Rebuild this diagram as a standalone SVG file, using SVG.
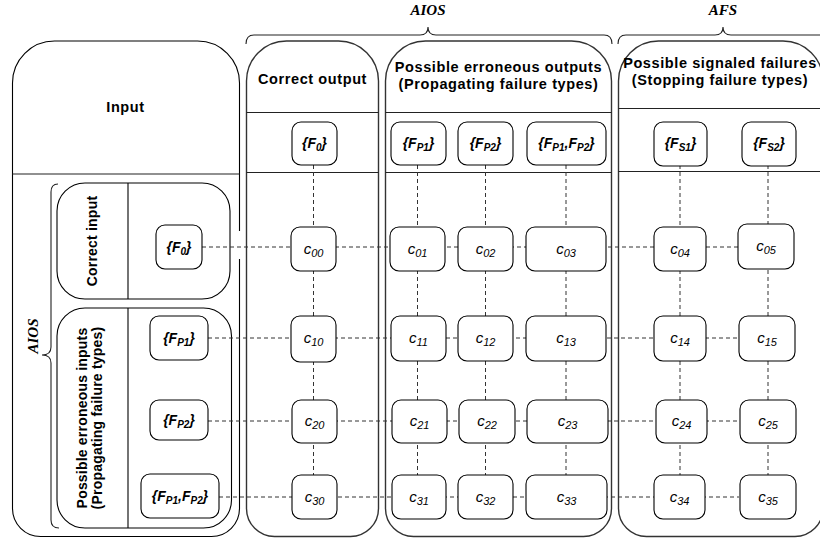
<svg xmlns="http://www.w3.org/2000/svg" width="820" height="542" viewBox="0 0 820 542">
<style>
.bx{fill:none;stroke:#000;stroke-width:1.1}
.col{fill:none;stroke:#333;stroke-width:1.4}
.dv{stroke:#222;stroke-width:1.2}
.br{fill:none;stroke:#222;stroke-width:1.1}
.dash{fill:none;stroke:#333;stroke-width:1;stroke-dasharray:4,3}
.nd{fill:#fff;stroke:#000;stroke-width:1.1}
.hd{font-family:"Liberation Sans",Arial,sans-serif;font-weight:bold;font-size:14.5px;letter-spacing:0.6px;fill:#000;text-anchor:middle}
.vt{font-family:"Liberation Sans",Arial,sans-serif;font-weight:bold;font-size:14px;letter-spacing:0.2px;fill:#000;text-anchor:middle}
.lab{font-family:"Liberation Sans",Arial,sans-serif;font-weight:bold;font-style:italic;font-size:14px;fill:#000;text-anchor:middle}
.cl{font-family:"Liberation Sans",Arial,sans-serif;font-style:italic;font-size:15px;fill:#000;text-anchor:middle}
.sub{font-size:10px}
.csub{font-size:11px}
.scr{font-family:"Liberation Serif","DejaVu Serif",serif;font-style:italic;font-weight:bold;font-size:15px;fill:#000;text-anchor:middle}
</style>

<!-- braces and set labels -->
<g id="braces">
<path class="br" d="M246,44 Q246,35 254,35 H420 Q428,35 428,27 Q428,35 436,35 H604 Q612,35 612,44"/>
<path class="br" d="M618,44 Q618,35 626,35 H715 Q723,35 723,27 Q723,35 731,35 H830"/>
<path class="br" d="M58,184 Q51,184 51,192 V347 Q51,355 42,355 Q51,355 51,363 V520 Q51,528 59,528"/>
<text class="scr" x="428" y="15">AIOS</text>
<text class="scr" x="723" y="15">AFS</text>
<text class="scr" x="38" y="336" transform="rotate(-90 38 336)">AIOS</text>
</g>

<!-- Input box -->
<g id="input">
<path class="bx" d="M12.5,83 A42,42 0 0 1 54.5,41 H197.5 A42,42 0 0 1 239.5,83 V508.5 A28,28 0 0 1 211.5,536.5 H40.5 A28,28 0 0 1 12.5,508.5 Z"/>
<line class="dv" x1="12.5" y1="174" x2="239.5" y2="174"/>
<rect x="237" y="231" width="5" height="28" fill="#fff"/>
<text class="hd" x="125.5" y="112">Input</text>
</g>

<g id="correct-input">
<rect class="bx" x="57" y="183" width="173" height="116" rx="28" ry="28"/>
<line class="bx" x1="128" y1="183" x2="128" y2="299"/>
<text class="vt" x="97" y="241" transform="rotate(-90 97 241)">Correct input</text>
</g>

<g id="erroneous-inputs">
<rect class="bx" x="57" y="308" width="174.5" height="220" rx="28" ry="28"/>
<line class="bx" x1="128" y1="308" x2="128" y2="528"/>
<text class="vt" x="87" y="418" transform="rotate(-90 87 418)">Possible erroneous inputs</text>
<text class="vt" x="102" y="418" transform="rotate(-90 102 418)">(Propagating failure types)</text>
</g>

<!-- Output columns -->
<g id="correct-output">
<path class="col" d="M246.5,81 A40,40 0 0 1 286.5,41 H338.5 A40,40 0 0 1 378.5,81 V508.5 A28,28 0 0 1 350.5,536.5 H274.5 A28,28 0 0 1 246.5,508.5 Z"/>
<line class="dv" x1="246.5" y1="112.5" x2="378.5" y2="112.5"/>
<line class="dv" x1="246.5" y1="172.5" x2="378.5" y2="172.5"/>
<text class="hd" x="312.5" y="84">Correct output</text>
</g>

<g id="erroneous-outputs">
<path class="col" d="M385.5,81 A40,40 0 0 1 425.5,41 H571.5 A40,40 0 0 1 611.5,81 V508.5 A28,28 0 0 1 583.5,536.5 H413.5 A28,28 0 0 1 385.5,508.5 Z"/>
<line class="dv" x1="385.5" y1="112.5" x2="611.5" y2="112.5"/>
<line class="dv" x1="385.5" y1="172.5" x2="611.5" y2="172.5"/>
<text class="hd" x="498.5" y="72">Possible erroneous outputs</text>
<text class="hd" x="498.5" y="89">(Propagating failure types)</text>
</g>

<g id="signaled-failures">
<path class="col" d="M618.5,81 A40,40 0 0 1 658.5,41 H783 A40,40 0 0 1 823,81 V508.5 A28,28 0 0 1 795,536.5 H646.5 A28,28 0 0 1 618.5,508.5 Z"/>
<line class="dv" x1="618.5" y1="108.5" x2="823" y2="108.5"/>
<line class="dv" x1="618.5" y1="171.5" x2="823" y2="171.5"/>
<text class="hd" x="720" y="68">Possible signaled failures</text>
<text class="hd" x="720" y="85">(Stopping failure types)</text>
</g>

<!-- connectors -->
<g id="connectors">
<line class="dash" x1="202" y1="247" x2="739" y2="247"/>
<line class="dash" x1="208" y1="338" x2="739" y2="338"/>
<line class="dash" x1="208" y1="421" x2="739" y2="421"/>
<line class="dash" x1="219" y1="497" x2="739" y2="497"/>
<line class="dash" x1="313.5" y1="165" x2="313.5" y2="475"/>
<line class="dash" x1="417.5" y1="165" x2="417.5" y2="475"/>
<line class="dash" x1="485.5" y1="165" x2="485.5" y2="475"/>
<line class="dash" x1="566" y1="165" x2="566" y2="475"/>
<line class="dash" x1="680" y1="165" x2="680" y2="475"/>
<line class="dash" x1="768" y1="165" x2="768" y2="475"/>
</g>

<!-- header nodes -->
<g id="h-F0"><rect class="nd" x="292" y="122" width="45" height="43" rx="9"/><text class="lab" x="314.5" y="148">{F<tspan class="sub" dy="3">0</tspan><tspan dy="-3">}</tspan></text></g>
<g id="h-FP1"><rect class="nd" x="391" y="122" width="55" height="43" rx="9"/><text class="lab" x="418.5" y="148">{F<tspan class="sub" dy="3">P1</tspan><tspan dy="-3">}</tspan></text></g>
<g id="h-FP2"><rect class="nd" x="458" y="122" width="55" height="43" rx="9"/><text class="lab" x="485.5" y="148">{F<tspan class="sub" dy="3">P2</tspan><tspan dy="-3">}</tspan></text></g>
<g id="h-FP12"><rect class="nd" x="527" y="122" width="79" height="43" rx="9"/><text class="lab" x="566.5" y="148">{F<tspan class="sub" dy="3">P1</tspan><tspan dy="-3">,F</tspan><tspan class="sub" dy="3">P2</tspan><tspan dy="-3">}</tspan></text></g>
<g id="h-FS1"><rect class="nd" x="654" y="122" width="53" height="44" rx="9"/><text class="lab" x="680.5" y="148">{F<tspan class="sub" dy="3">S1</tspan><tspan dy="-3">}</tspan></text></g>
<g id="h-FS2"><rect class="nd" x="742" y="122" width="54" height="44" rx="9"/><text class="lab" x="769" y="148">{F<tspan class="sub" dy="3">S2</tspan><tspan dy="-3">}</tspan></text></g>

<!-- input nodes -->
<g id="i-F0"><rect class="nd" x="156" y="225" width="46" height="44" rx="9"/><text class="lab" x="179" y="252">{F<tspan class="sub" dy="3">0</tspan><tspan dy="-3">}</tspan></text></g>
<g id="i-FP1"><rect class="nd" x="150" y="316" width="58" height="44" rx="9"/><text class="lab" x="179" y="343">{F<tspan class="sub" dy="3">P1</tspan><tspan dy="-3">}</tspan></text></g>
<g id="i-FP2"><rect class="nd" x="150" y="400" width="58" height="40" rx="9"/><text class="lab" x="179" y="425">{F<tspan class="sub" dy="3">P2</tspan><tspan dy="-3">}</tspan></text></g>
<g id="i-FP12"><rect class="nd" x="141" y="474" width="78" height="44" rx="9"/><text class="lab" x="180" y="501">{F<tspan class="sub" dy="3">P1</tspan><tspan dy="-3">,F</tspan><tspan class="sub" dy="3">P2</tspan><tspan dy="-3">}</tspan></text></g>

<!-- cells -->
<g id="c00"><rect class="nd" x="291" y="227" width="45" height="44" rx="9"/><text class="cl" x="313.5" y="254">c<tspan class="csub" dy="3">00</tspan></text></g>
<g id="c01"><rect class="nd" x="390" y="227" width="55" height="44" rx="9"/><text class="cl" x="417.5" y="254">c<tspan class="csub" dy="3">01</tspan></text></g>
<g id="c02"><rect class="nd" x="458" y="227" width="55" height="44" rx="9"/><text class="cl" x="485.5" y="254">c<tspan class="csub" dy="3">02</tspan></text></g>
<g id="c03"><rect class="nd" x="526" y="227" width="80" height="44" rx="9"/><text class="cl" x="566" y="254">c<tspan class="csub" dy="3">03</tspan></text></g>
<g id="c04"><rect class="nd" x="654" y="227" width="52" height="44" rx="9"/><text class="cl" x="680" y="254">c<tspan class="csub" dy="3">04</tspan></text></g>
<g id="c05"><rect class="nd" x="738" y="224" width="56" height="45" rx="9"/><text class="cl" x="766" y="251">c<tspan class="csub" dy="3">05</tspan></text></g>

<g id="c10"><rect class="nd" x="291" y="316" width="45" height="46" rx="9"/><text class="cl" x="313.5" y="343">c<tspan class="csub" dy="3">10</tspan></text></g>
<g id="c11"><rect class="nd" x="391" y="316" width="55" height="45" rx="9"/><text class="cl" x="418.5" y="343">c<tspan class="csub" dy="3">11</tspan></text></g>
<g id="c12"><rect class="nd" x="458" y="316" width="55" height="45" rx="9"/><text class="cl" x="485.5" y="343">c<tspan class="csub" dy="3">12</tspan></text></g>
<g id="c13"><rect class="nd" x="526" y="316" width="80" height="45" rx="9"/><text class="cl" x="566" y="343">c<tspan class="csub" dy="3">13</tspan></text></g>
<g id="c14"><rect class="nd" x="654" y="316" width="52" height="45" rx="9"/><text class="cl" x="680" y="343">c<tspan class="csub" dy="3">14</tspan></text></g>
<g id="c15"><rect class="nd" x="739" y="316" width="56" height="45" rx="9"/><text class="cl" x="767" y="343">c<tspan class="csub" dy="3">15</tspan></text></g>

<g id="c20"><rect class="nd" x="292" y="400" width="45" height="43" rx="9"/><text class="cl" x="314.5" y="426">c<tspan class="csub" dy="3">20</tspan></text></g>
<g id="c21"><rect class="nd" x="392" y="400" width="55" height="43" rx="9"/><text class="cl" x="419.5" y="426">c<tspan class="csub" dy="3">21</tspan></text></g>
<g id="c22"><rect class="nd" x="459" y="400" width="56" height="43" rx="9"/><text class="cl" x="487" y="426">c<tspan class="csub" dy="3">22</tspan></text></g>
<g id="c23"><rect class="nd" x="527" y="400" width="81" height="43" rx="9"/><text class="cl" x="567.5" y="426">c<tspan class="csub" dy="3">23</tspan></text></g>
<g id="c24"><rect class="nd" x="656" y="400" width="51" height="43" rx="9"/><text class="cl" x="681.5" y="426">c<tspan class="csub" dy="3">24</tspan></text></g>
<g id="c25"><rect class="nd" x="740" y="400" width="56" height="43" rx="9"/><text class="cl" x="768" y="426">c<tspan class="csub" dy="3">25</tspan></text></g>

<g id="c30"><rect class="nd" x="292" y="475" width="45" height="44" rx="9"/><text class="cl" x="314.5" y="502">c<tspan class="csub" dy="3">30</tspan></text></g>
<g id="c31"><rect class="nd" x="392" y="475" width="54" height="44" rx="9"/><text class="cl" x="419" y="502">c<tspan class="csub" dy="3">31</tspan></text></g>
<g id="c32"><rect class="nd" x="458" y="475" width="55" height="44" rx="9"/><text class="cl" x="485.5" y="502">c<tspan class="csub" dy="3">32</tspan></text></g>
<g id="c33"><rect class="nd" x="526" y="475" width="81" height="44" rx="9"/><text class="cl" x="566.5" y="502">c<tspan class="csub" dy="3">33</tspan></text></g>
<g id="c34"><rect class="nd" x="654" y="475" width="51" height="44" rx="9"/><text class="cl" x="679.5" y="502">c<tspan class="csub" dy="3">34</tspan></text></g>
<g id="c35"><rect class="nd" x="740" y="475" width="56" height="44" rx="9"/><text class="cl" x="768" y="502">c<tspan class="csub" dy="3">35</tspan></text></g>
</svg>
